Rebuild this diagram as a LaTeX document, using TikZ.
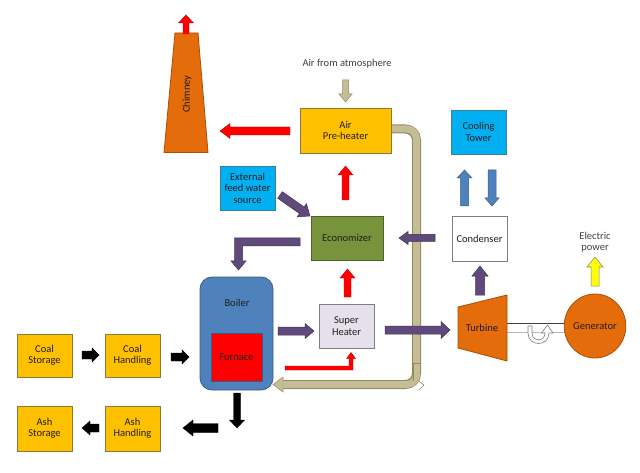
\documentclass[tikz,border=0pt]{standalone}
\usepackage{fontspec}
\setmainfont{Carlito}
\usetikzlibrary{calc,shapes.geometric}
\definecolor{yel}{HTML}{FFC000}
\definecolor{yelb}{HTML}{8C7A3A}
\definecolor{purp}{HTML}{604A7B}
\definecolor{purpb}{HTML}{3F3151}
\definecolor{boilc}{HTML}{4F81BD}
\definecolor{boilb}{HTML}{385D8A}
\definecolor{orng}{HTML}{E46C0A}
\definecolor{orngb}{HTML}{A84F08}
\definecolor{econc}{HTML}{77933C}
\definecolor{econb}{HTML}{4F6228}
\definecolor{cyanc}{HTML}{00B0F0}
\definecolor{cyanb}{HTML}{3A7EA0}
\definecolor{lav}{HTML}{E6E0EC}
\definecolor{grayb}{HTML}{7F7F7F}
\definecolor{pipec}{HTML}{C4BD97}
\definecolor{pipeb}{HTML}{948A54}
\definecolor{textc}{HTML}{1F1F1F}
\definecolor{softtext}{HTML}{404040}
\definecolor{redb}{HTML}{C00000}
\definecolor{yelarr}{HTML}{FFFF00}
% block arrow: style, from, to, shaft half width, head half width, head length
\newcommand\blkarrow[6]{%
  \path[#1] ($(#2)!#4!90:(#3)$) -- ($(#3)!#6!(#2)!#4!90:(#3)$) -- ($(#3)!#6!(#2)!#5!90:(#3)$) -- (#3)
    -- ($(#3)!#6!(#2)!#5!-90:(#3)$) -- ($(#3)!#6!(#2)!#4!-90:(#3)$) -- ($(#2)!#4!-90:(#3)$) -- cycle;}
\begin{document}
\begin{tikzpicture}[x=1pt,y=-1pt,
  txt/.style={font=\fontsize{10.5pt}{11.5pt}\selectfont, text=textc, align=center, inner sep=0pt},
  sized/.style 2 args={minimum width=#1pt, minimum height=#2pt},
  yelbox/.style={txt, rectangle, fill=yel, draw=yelb, line width=0.8pt},
  cyanbox/.style={txt, rectangle, fill=cyanc, draw=cyanb, line width=0.8pt},
  econbox/.style={txt, rectangle, fill=econc, draw=econb, line width=0.8pt},
  whitebox/.style={txt, rectangle, fill=white, draw=grayb, line width=0.8pt},
  lavbox/.style={txt, rectangle, fill=lav, draw=grayb, line width=0.8pt},
  boilbox/.style={rectangle, rounded corners=12pt, fill=boilc, draw=boilb, line width=0.8pt},
  furnbox/.style={txt, rectangle, fill=red, draw=boilb, line width=0.8pt},
  purparr/.style={fill=purp, draw=purpb, line width=0.5pt},
  redarr/.style={fill=red, draw=redb, line width=0.4pt},
  blackarr/.style={fill=black, draw=black, line width=0.4pt},
  bluearr/.style={fill=boilc, draw=boilb, line width=0.5pt},
  yellowarr/.style={fill=yelarr, draw=grayb, line width=0.5pt},
  beigearr/.style={fill=pipec, draw=pipeb, line width=0.5pt},
  freetext/.style={txt, text=softtext}
]
\useasboundingbox (0,0) rectangle (640,473);
\fill[white] (0,0) rectangle (640,473);

% hot air pipe from air pre-heater to boiler
\draw[line width=9pt, pipeb, rounded corners=11pt] (388,129) -- (416.5,129) -- (416.5,384.5) -- (283,384.5);
\draw[line width=7pt, pipec, rounded corners=10pt] (387,129) -- (416.5,129) -- (416.5,384.5) -- (283.5,384.5);
\coordinate (pipeS) at (283,384.5);
\coordinate (pipeE) at (273,384.5);
\blkarrow{beigearr}{pipeS}{pipeE}{3pt}{7.5pt}{10pt}
\draw[line width=7pt, pipec] (286,384.5) -- (282.6,384.5);
\draw[pipeb, line width=0.6pt] (419.5,363) -- (413,363) -- (413,381);
\draw[pipeb, line width=0.6pt] (418,380.5) -- (424,385) -- (419,390);

% chimney
\path[fill=orng, draw=orngb, line width=0.8pt] (175,33) -- (198,33) -- (208,152.5) -- (164,152.5) -- cycle;
\node[txt, rotate=90] (chimney) at (187,94) {Chimney};
\coordinate (chS) at (186,34);
\coordinate (chE) at (186,15);
\blkarrow{redarr}{chS}{chE}{3pt}{7.5pt}{8pt}

% boxes
\node[yelbox, sized={91}{45}] (aph) at (345.5,130.5) {Air\\Pre-heater};
\node[cyanbox, sized={55}{44}] (feed) at (247.5,188) {External\\feed water\\source};
\node[econbox, sized={72}{44}] (econ) at (347,238) {Economizer};
\node[boilbox, sized={73}{113}] (boiler) at (236.5,333.5) {};
\node[txt] (boilerlabel) at (237,303) {Boiler};
\node[furnbox, sized={51}{48}] (furnace) at (236.5,357) {Furnace};
\node[lavbox, sized={55}{44}] (sh) at (346.5,326) {Super\\Heater};
\node[whitebox, sized={55}{45}] (cond) at (479.5,238.5) {Condenser};
\node[cyanbox, sized={55}{44}] (ct) at (478.5,132) {Cooling\\Tower};
\node[yelbox, sized={55}{43}] (coalS) at (44.5,355.5) {Coal\\Storage};
\node[yelbox, sized={55}{43}] (coalH) at (132.5,355.5) {Coal\\Handling};
\node[yelbox, sized={55}{45}] (ashS) at (44.5,428.5) {Ash\\Storage};
\node[yelbox, sized={55}{45}] (ashH) at (132.5,428.5) {Ash\\Handling};
\node[freetext] (air) at (347,64) {Air from atmosphere};
\node[freetext] (elec) at (595,242) {Electric\\power};

% shaft between turbine and generator
\fill[white] (507,323.5) rectangle (568,332);
\draw[softtext, line width=0.7pt] (507,323.5) -- (568,323.5);
\draw[gray!55, line width=0.7pt] (507,332) -- (568,332);
\path[fill=white, draw=grayb, line width=0.6pt]
  (528,326) -- (528,333) .. controls (528,347) and (549,347) .. (549,333)
  -- (553,333) -- (547.5,325) -- (541.5,333) -- (545,333)
  .. controls (545,342) and (532,342) .. (532,333) -- (532,326) -- cycle;

% turbine and generator
\path[fill=orng, draw=orngb, line width=0.8pt] (458,307) -- (507,295) -- (507,361) -- (458,348) -- cycle;
\node[txt] (turbine) at (482,328) {Turbine};
\node[txt, ellipse, fill=orng, draw=orngb, line width=0.8pt, sized={54}{64}] (gen) at (595,326) {Generator};

% air arrow
\coordinate (airS) at (345.5,80);
\coordinate (airE) at (345.5,102);
\blkarrow{beigearr}{airS}{airE}{3pt}{6.5pt}{8pt}

% red (flue gas) arrows
\coordinate (r1s) at (290,131);
\coordinate (r1e) at (220,131);
\blkarrow{redarr}{r1s}{r1e}{4pt}{7.5pt}{10pt}
\coordinate (r2s) at (345.5,200);
\coordinate (r2e) at (345.5,166);
\blkarrow{redarr}{r2s}{r2e}{3.5pt}{7.5pt}{9pt}
\coordinate (r3s) at (347.5,297);
\coordinate (r3e) at (347.5,269);
\blkarrow{redarr}{r3s}{r3e}{3.5pt}{7.5pt}{9pt}
\path[redarr] (285,366) -- (349,366) -- (349,358.5) -- (346.5,358.5) -- (351,352.5) -- (355.5,358.5)
  -- (353,358.5) -- (353,370) -- (285,370) -- cycle;

% purple (water/steam) arrows
\coordinate (p1s) at (280,195);
\coordinate (p1e) at (310,216);
\blkarrow{purparr}{p1s}{p1e}{4pt}{8pt}{10pt}
\path[purparr] (300,238) -- (234.5,238) -- (234.5,261) -- (231,261) -- (238.5,270) -- (246,261)
  -- (242.5,261) -- (242.5,246) -- (300,246) -- cycle;
\coordinate (p2s) at (435,238);
\coordinate (p2e) at (399,238);
\blkarrow{purparr}{p2s}{p2e}{3.5pt}{6.5pt}{9pt}
\coordinate (p3s) at (278,331);
\coordinate (p3e) at (314,331);
\blkarrow{purparr}{p3s}{p3e}{4pt}{7.5pt}{9pt}
\coordinate (p4s) at (385,330);
\coordinate (p4e) at (450,330);
\blkarrow{purparr}{p4s}{p4e}{4pt}{8.5pt}{9pt}
\coordinate (p5s) at (480,295);
\coordinate (p5e) at (480,266);
\blkarrow{purparr}{p5s}{p5e}{4.5pt}{8pt}{10pt}

% cooling water arrows
\coordinate (b1s) at (464.5,206);
\coordinate (b1e) at (464.5,170);
\blkarrow{bluearr}{b1s}{b1e}{4pt}{7.5pt}{8pt}
\coordinate (b2s) at (492,170);
\coordinate (b2e) at (492,206);
\blkarrow{bluearr}{b2s}{b2e}{4pt}{7pt}{8pt}

% electric power arrow
\coordinate (y1s) at (595,286);
\coordinate (y1e) at (595,257);
\blkarrow{yellowarr}{y1s}{y1e}{4pt}{8pt}{10pt}

% coal and ash arrows
\coordinate (k1s) at (82,355);
\coordinate (k1e) at (99,355);
\blkarrow{blackarr}{k1s}{k1e}{4pt}{7pt}{7pt}
\coordinate (k2s) at (171,357);
\coordinate (k2e) at (189,357);
\blkarrow{blackarr}{k2s}{k2e}{4pt}{7pt}{7pt}
\coordinate (k3s) at (237,393);
\coordinate (k3e) at (237,428);
\blkarrow{blackarr}{k3s}{k3e}{3.5pt}{7.5pt}{8pt}
\coordinate (k4s) at (218,428);
\coordinate (k4e) at (183,428);
\blkarrow{blackarr}{k4s}{k4e}{4.5pt}{8pt}{10pt}
\coordinate (k5s) at (99,428);
\coordinate (k5e) at (82,428);
\blkarrow{blackarr}{k5s}{k5e}{4pt}{7pt}{8pt}
\end{tikzpicture}
\end{document}
